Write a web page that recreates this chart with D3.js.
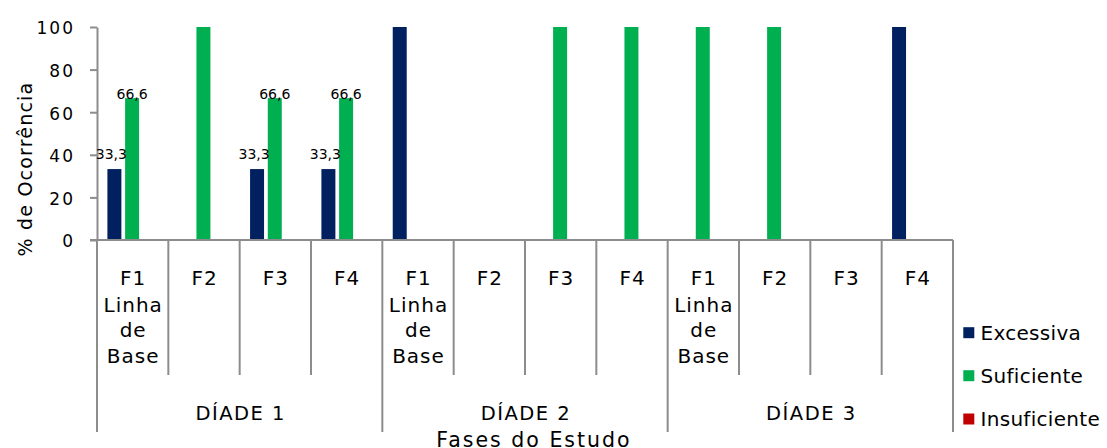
<!DOCTYPE html>
<html><head><meta charset="utf-8">
<script src="https://cdn.jsdelivr.net/npm/d3@7"></script>
<style>
body{margin:0;background:#fff}
svg{display:block;font-family:"DejaVu Sans",Verdana,sans-serif}
</style>
</head><body>
<svg id="c" width="1107" height="448"></svg>
<script>
const groups = ["DÍADE 1", "DÍADE 2", "DÍADE 3"];
const phases = [["F1", "Linha", "de", "Base"], ["F2"], ["F3"], ["F4"]];
const seriesNames = ["Excessiva", "Suficiente", "Insuficiente"];
const excessiva = [33.3, 0, 33.3, 33.3, 100, 0, 0, 0, 0, 0, 0, 100];
const suficiente = [66.6, 100, 66.6, 66.6, 0, 0, 100, 100, 100, 100, 0, 0];
const insuficiente = [0, 0, 0, 0, 0, 0, 0, 0, 0, 0, 0, 0];
const yTicks = [0, 20, 40, 60, 80, 100];
const yTitle = "% de Ocorrência";
const xTitle = "Fases do Estudo";

const colors = ["#002060", "#00B050", "#C00000"];
const seriesData = [excessiva, suficiente, insuficiente];
const axisColor = "#8c8c8c";

const svg = d3.select("#c");
const L = 97, R = 953, T = 27, B = 240;
const nCat = groups.length * phases.length;

const x = d3.scaleBand().domain(d3.range(nCat)).range([L, R]).padding(0);
const inner = d3.scaleBand().domain(d3.range(seriesNames.length))
  .range([10.4, 10.4 + 49.4]).paddingInner(0.21).paddingOuter(0);
const y = d3.scaleLinear().domain([0, 100]).range([B, T]);

// y axis
const yAxis = svg.append("g").attr("transform", `translate(${L},0)`)
  .call(d3.axisLeft(y).tickValues(yTicks).tickSize(7).tickSizeOuter(0).tickPadding(15).tickFormat(d3.format("d")));
yAxis.select(".domain").attr("stroke", axisColor).attr("stroke-width", 2);
yAxis.selectAll(".tick line").attr("stroke", axisColor).attr("stroke-width", 2);
yAxis.selectAll(".tick text").attr("fill", "#000").attr("font-size", 17)
  .attr("letter-spacing", "2px").attr("font-family", '"DejaVu Sans",Verdana,sans-serif').attr("dy", "0.4em");

// bars
seriesData.forEach((vals, s) => {
  svg.append("g").selectAll("rect").data(vals).join("rect")
    .attr("x", (d, i) => x(i) + inner(s))
    .attr("width", inner.bandwidth())
    .attr("y", d => y(d))
    .attr("height", d => y(0) - y(d))
    .attr("fill", colors[s]);
});

// x axis line
svg.append("line").attr("x1", L - 7).attr("x2", R).attr("y1", B).attr("y2", B)
  .attr("stroke", axisColor).attr("stroke-width", 2);

// separators
for (let i = 0; i <= nCat; i++) {
  const xx = i < nCat ? x(i) : R;
  const isGroup = i % phases.length === 0;
  svg.append("line").attr("x1", xx).attr("x2", xx).attr("y1", B).attr("y2", isGroup ? 432 : 375)
    .attr("stroke", axisColor).attr("stroke-width", 2);
}

// data labels
const fmt = v => d3.format(".1f")(v).replace(".", ",");
const labelStyle = [{dx: -3, dy: -10.5}, {dx: 0, dy: 0.5}, {dx: 0, dy: 0}];
seriesData.forEach((vals, s) => {
  vals.forEach((v, i) => {
    if (v > 0 && v < 100) {
      svg.append("text")
        .attr("x", x(i) + inner(s) + inner.bandwidth() / 2 + labelStyle[s].dx)
        .attr("y", y(v) + labelStyle[s].dy)
        .attr("text-anchor", "middle").attr("font-size", 14).attr("fill", "#000")
        .text(fmt(v));
    }
  });
});

// category labels
const lineY = [285, 311.5, 337, 362.5];
for (let i = 0; i < nCat; i++) {
  const lines = phases[i % phases.length];
  lines.forEach((t, k) => {
    svg.append("text").attr("x", x(i) + x.bandwidth() / 2 + 0.5).attr("y", lineY[k])
      .attr("text-anchor", "middle").attr("font-size", 20).attr("letter-spacing", "1px")
      .attr("fill", "#000").text(t);
  });
}
// group labels
groups.forEach((g, gi) => {
  const x0 = x(gi * phases.length);
  const x1 = gi * phases.length + phases.length < nCat ? x(gi * phases.length + phases.length) : R;
  svg.append("text").attr("x", (x0 + x1) / 2 + 1).attr("y", 420)
    .attr("text-anchor", "middle").attr("font-size", 19.5).attr("letter-spacing", "1.5px")
    .attr("fill", "#000").text(g);
});

// axis titles
svg.append("text").attr("x", 534).attr("y", 446.5).attr("text-anchor", "middle")
  .attr("font-size", 20.5).attr("letter-spacing", "2px").attr("fill", "#000").text(xTitle);
svg.append("text").attr("transform", "translate(31.5,169) rotate(-90)").attr("text-anchor", "middle")
  .attr("font-size", 19).attr("letter-spacing", "1.2px").attr("fill", "#000").text(yTitle);

// legend
const legY = [332.7, 375.7, 419];
seriesNames.forEach((n, s) => {
  svg.append("rect").attr("x", 963.3).attr("y", legY[s] - 5.5).attr("width", 11).attr("height", 11).attr("fill", colors[s]);
  svg.append("text").attr("x", 980.5).attr("y", legY[s] + 7.3).attr("font-size", 20)
    .attr("letter-spacing", "0.3px").attr("fill", "#000").text(n);
});
</script>
</body></html>
